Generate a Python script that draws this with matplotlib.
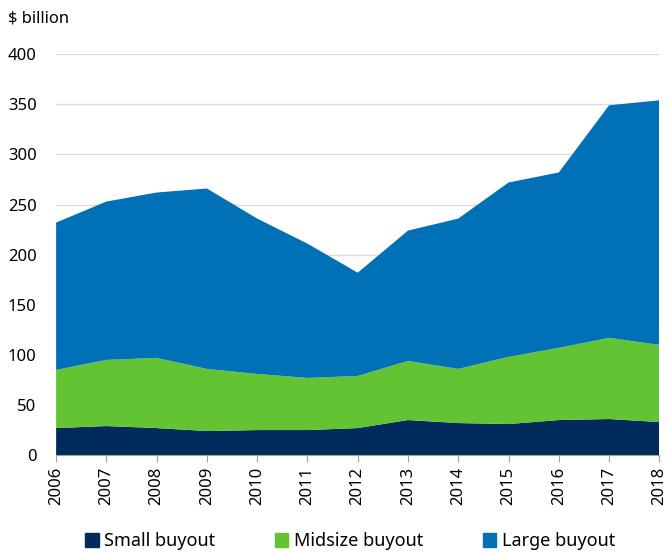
import matplotlib.pyplot as plt
from matplotlib.patches import Patch

plt.rcParams['font.family'] = ['Noto Sans', 'DejaVu Sans']

years = list(range(2006, 2019))
# $ billion
small = [27, 29, 27, 24, 25, 25, 27, 35, 32, 31, 35, 36, 33]
midsize = [58, 66, 70, 62, 56, 52, 52, 59, 54, 67, 72, 81, 77]
large = [147, 158, 165, 180, 155, 134, 103, 130, 150, 174, 175, 232, 244]
labels = ['Small buyout', 'Midsize buyout', 'Large buyout']
colors = ['#002b5c', '#63c332', '#0071b6']

fig = plt.figure(figsize=(6.68, 5.53), dpi=100)
ax = fig.add_axes([0.084, 0.177, 0.903, 0.725])

ax.stackplot(years, small, midsize, large, colors=colors, linewidth=0, zorder=2)

ax.set_xlim(2006, 2018)
ax.set_ylim(0, 400)
ax.set_yticks(range(0, 401, 50))
ax.set_xticks(years)
ax.set_xticklabels([str(y) for y in years], rotation=90)
ax.grid(axis='y', color='#dcdcdc', linewidth=1, zorder=0)
for s in ['top', 'right', 'left']:
    ax.spines[s].set_visible(False)
ax.spines['bottom'].set_color('#a0a0a0')
ax.spines['bottom'].set_zorder(3)
ax.tick_params(axis='y', length=0, labelsize=12, pad=14)
ax.tick_params(axis='x', length=5, color='#a0a0a0', labelsize=12)

fig.text(0.012, 0.967, '$ billion', fontsize=12, va='center', ha='left')

handles = [Patch(color=c) for c in colors]
fig.legend(handles, labels, loc='center', bbox_to_anchor=(0.524, 0.021), ncol=3,
           frameon=False, fontsize=13, handlelength=0.75, handleheight=0.75,
           handletextpad=0.3, columnspacing=3.3)

fig.savefig('out.png', dpi=100)
